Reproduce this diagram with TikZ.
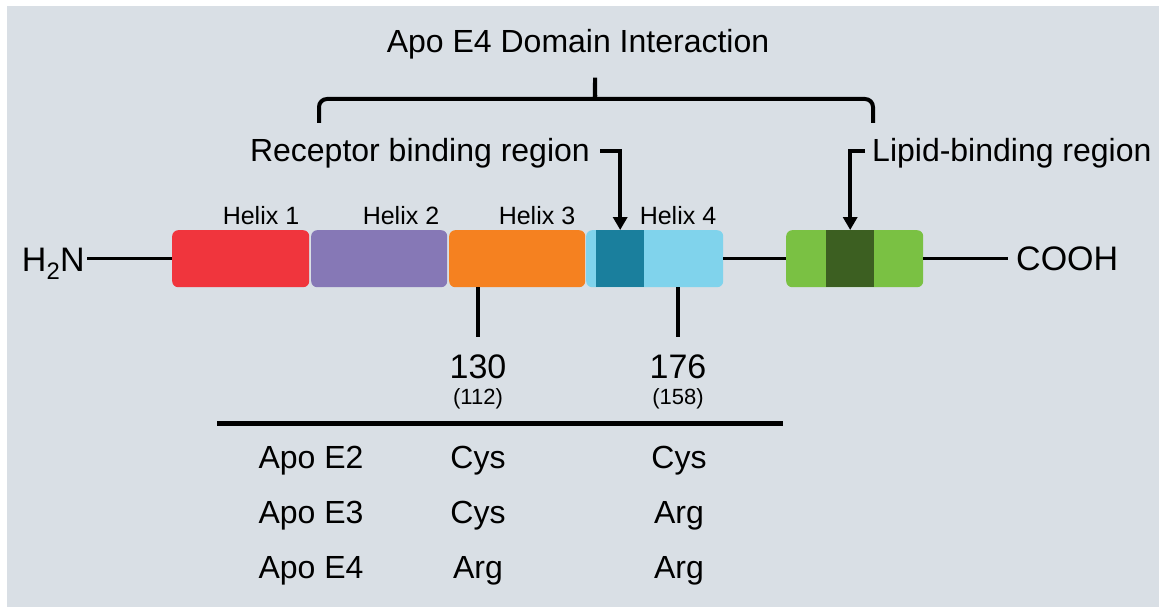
\documentclass[tikz,border=0pt]{standalone}
\usepackage{fontspec}
\setmainfont{Liberation Sans}
\usetikzlibrary{arrows.meta}
\definecolor{bgc}{HTML}{D9DFE5}
\definecolor{hred}{HTML}{F0353D}
\definecolor{hpurple}{HTML}{8678B6}
\definecolor{horange}{HTML}{F58120}
\definecolor{hblue}{HTML}{80D3EC}
\definecolor{hteal}{HTML}{1A7F9D}
\definecolor{hgreen}{HTML}{7AC143}
\definecolor{hdkgreen}{HTML}{3C5F21}
\begin{document}
\begin{tikzpicture}[x=1pt,y=-1pt,
  box/.style={rounded corners=6pt, minimum height=57pt, inner sep=0pt, draw=none, anchor=north west},
  band/.style={minimum height=57pt, inner sep=0pt, draw=none, anchor=north west},
  lab/.style={font=\fontsize{32}{38}\selectfont, inner sep=0pt, anchor=base},
  big/.style={font=\fontsize{34}{40}\selectfont, inner sep=0pt, anchor=base},
  hel/.style={font=\fontsize{25}{30}\selectfont, inner sep=0pt, anchor=base},
  small/.style={font=\fontsize{22}{26}\selectfont, inner sep=0pt, anchor=base},
  conn/.style={line width=3pt},
  tick/.style={line width=4pt},
  arr/.style={line width=4pt, -{Triangle[width=14pt,length=13pt]}},
  bracepath/.style={line width=4pt, rounded corners=8pt}
]
% canvas
\fill[white] (0,0) rectangle (1165,607);
\useasboundingbox (0,0) rectangle (1165,607);
\fill[bgc] (7,6) rectangle (1159,607);

% title and brace
\node[lab] (title) at (578,53) {Apo E4 Domain Interaction};
\draw[bracepath] (319,123) -- (319,99) -- (588,99)
  .. controls (594,99) and (595,96) .. (595,73)
  .. controls (595,96) and (596,99) .. (602,99)
  -- (873,99) -- (873,123);

% connector lines (behind boxes)
\node[big, anchor=base east] (h2n) at (85,271) {H\textsubscript{2}N};
\node[big, anchor=base west] (cooh) at (1016,270) {COOH};

% boxes
\node[box, fill=hred, minimum width=137pt] (h1) at (172,230) {};
\node[box, fill=hpurple, minimum width=136pt] (h2) at (311,230) {};
\node[box, fill=horange, minimum width=136pt] (h3) at (449,230) {};
\node[box, fill=hblue, minimum width=137pt] (h4) at (586,230) {};
\node[band, fill=hteal, minimum width=48pt] (tl) at (596,230) {};
\node[box, fill=hgreen, minimum width=137pt] (g) at (786,230) {};
\node[band, fill=hdkgreen, minimum width=48pt] (dg) at (826,230) {};

\draw[conn] ([xshift=2pt]h2n.east |- h1.west) -- (h1.west);
\draw[conn] (h4.east) -- (g.west);
\draw[conn] (g.east) -- ([xshift=-8pt]cooh.west |- g.east);

% helix labels
\node[hel] (l1) at (261,224) {Helix 1};
\node[hel] (l2) at (401,224) {Helix 2};
\node[hel] (l3) at (537,224) {Helix 3};
\node[hel] (l4) at (678,224) {Helix 4};

% region labels and arrows
\node[lab, anchor=base east] (rec) at (590,162) {Receptor binding region};
\node[lab, anchor=base west] (lip) at (872,162) {Lipid-binding region};
\draw[arr] ([shift={(10,-11)}]rec.base east) -| (tl.north);
\draw[arr] ([shift={(-7,-11)}]lip.base west) -| (dg.north);

% residue positions
\node[big] (n130) at (478,378) {130};
\node[small] (n112) at (478,404) {(112)};
\node[big] (n176) at (678,378) {176};
\node[small] (n158) at (678,404) {(158)};
\draw[tick] (n130 |- h3.south) -- ++(0,50);
\draw[tick] (n176 |- h4.south) -- ++(0,50);

% table
\coordinate (tl1) at (217,423);
\coordinate (tl2) at (783,423);
\draw[line width=5pt] (tl1) -- (tl2);
\node[lab] (e2) at (311,468) {Apo E2};
\node[lab] (e3) at (311,523) {Apo E3};
\node[lab] (e4) at (311,578) {Apo E4};
\node[lab] (a2) at (478,468) {Cys};
\node[lab] (a3) at (478,523) {Cys};
\node[lab] (a4) at (478,578) {Arg};
\node[lab] (b2) at (679,468) {Cys};
\node[lab] (b3) at (679,523) {Arg};
\node[lab] (b4) at (679,578) {Arg};
\end{tikzpicture}
\end{document}
